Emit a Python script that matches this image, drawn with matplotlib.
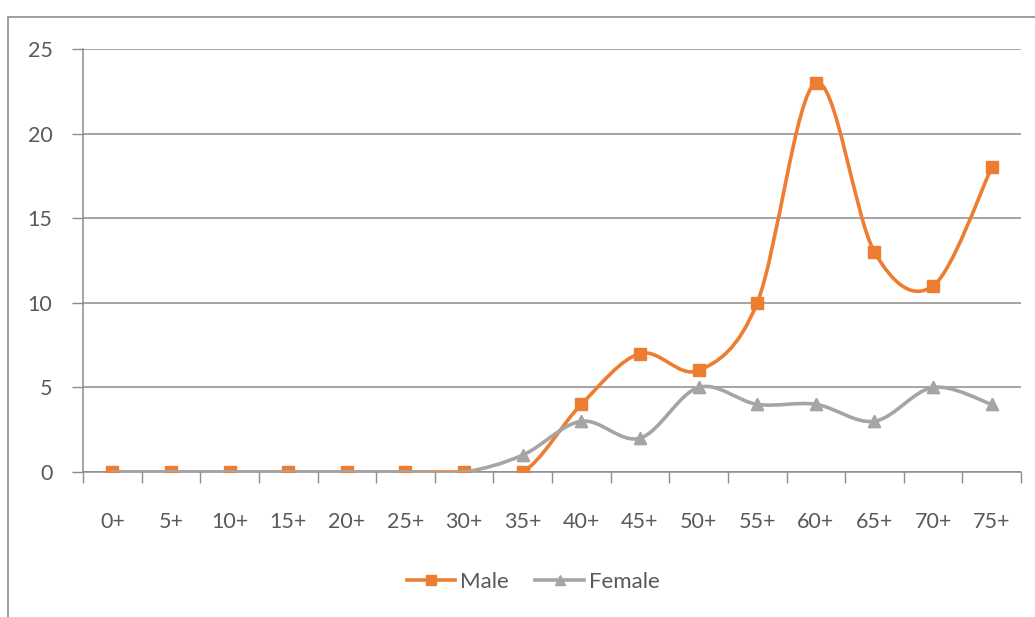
import numpy as np
import matplotlib.pyplot as plt
from matplotlib.path import Path
from matplotlib.patches import PathPatch, Rectangle
from matplotlib.lines import Line2D

plt.rcParams['font.family'] = ['Lato', 'DejaVu Sans']

ages = ['0+', '5+', '10+', '15+', '20+', '25+', '30+', '35+',
        '40+', '45+', '50+', '55+', '60+', '65+', '70+', '75+']
male = [0, 0, 0, 0, 0, 0, 0, 0, 4, 7, 6, 10, 23, 13, 11, 18]
female = [0, 0, 0, 0, 0, 0, 0, 1, 3, 2, 5, 4, 4, 3, 5, 4]

orange = '#ED7D31'
grey = '#A5A5A5'
text_c = '#595959'


def smooth_path(x, y):
    # excel-like smoothing: cubic bezier with catmull-rom control points
    pts = np.column_stack([x, y]).astype(float)
    n = len(pts)
    verts = [pts[0]]
    codes = [Path.MOVETO]
    for i in range(n - 1):
        p0 = pts[i - 1] if i > 0 else pts[i]
        p1 = pts[i]
        p2 = pts[i + 1]
        p3 = pts[i + 2] if i + 2 < n else pts[i + 1]
        c1 = p1 + (p2 - p0) / 6
        c2 = p2 - (p3 - p1) / 6
        verts += [c1, c2, p2]
        codes += [Path.CURVE4] * 3
    return Path(verts, codes)


fig = plt.figure(figsize=(10.35, 6.17), dpi=100)
ax = fig.add_axes([0.0802, 0.235, 0.9063, 0.6856])

x = np.arange(len(ages))
# male markers on top of the female ones, female line over them
ax.add_patch(PathPatch(smooth_path(x, male), fill=False, edgecolor=orange,
                       lw=2.6, zorder=3, capstyle='round'))
ax.plot(x, female, ls='none', marker='^', ms=8, color=grey, zorder=3.2)
ax.plot(x, male, ls='none', marker='s', ms=8, color=orange, zorder=3.5)
ax.add_patch(PathPatch(smooth_path(x, female), fill=False, edgecolor=grey,
                       lw=2.6, zorder=4, capstyle='round'))
ax.plot(x[7:], female[7:], ls='none', marker='^', ms=8, color=grey, zorder=4.5)

ax.set_xlim(-0.5, 15.5)
ax.set_ylim(0, 25)
ax.set_yticks([0, 5, 10, 15, 20, 25])
ax.set_xticks(x)
ax.set_xticklabels(ages)
ax.set_xticks(np.arange(-0.5, 16, 1), minor=True)
ax.tick_params(axis='x', which='major', length=0, pad=29, labelsize=15.5, labelcolor=text_c)
ax.tick_params(axis='x', which='minor', length=8, width=1, color='#8c8c8c', direction='out')
ax.tick_params(axis='y', length=8, width=1, color='#8c8c8c', pad=14, labelsize=15.5, labelcolor=text_c)

ax.grid(axis='y', color='#8c8c8c', lw=1.1)
ax.set_axisbelow(True)
for s in ['top', 'right']:
    ax.spines[s].set_visible(False)
for s in ['left', 'bottom']:
    ax.spines[s].set_color('#8c8c8c')
    ax.spines[s].set_linewidth(1.1)

handles = [Line2D([], [], color=orange, lw=2.6, marker='s', ms=7.5),
           Line2D([], [], color=grey, lw=2.6, marker='^', ms=7.5)]
fig.legend(handles, ['Male', 'Female'], loc='center', bbox_to_anchor=(0.515, 0.057),
           ncol=2, frameon=False, fontsize=16, labelcolor=text_c,
           handlelength=2.2, handletextpad=0.2, columnspacing=1.2)

fig.patches.append(Rectangle((8 / 1035, -0.1), 1.2, 1 - 17 / 617 + 0.1,
                             transform=fig.transFigure, fill=False,
                             edgecolor='#8c8c8c', lw=1.2))

fig.savefig('out.png', dpi=100)
